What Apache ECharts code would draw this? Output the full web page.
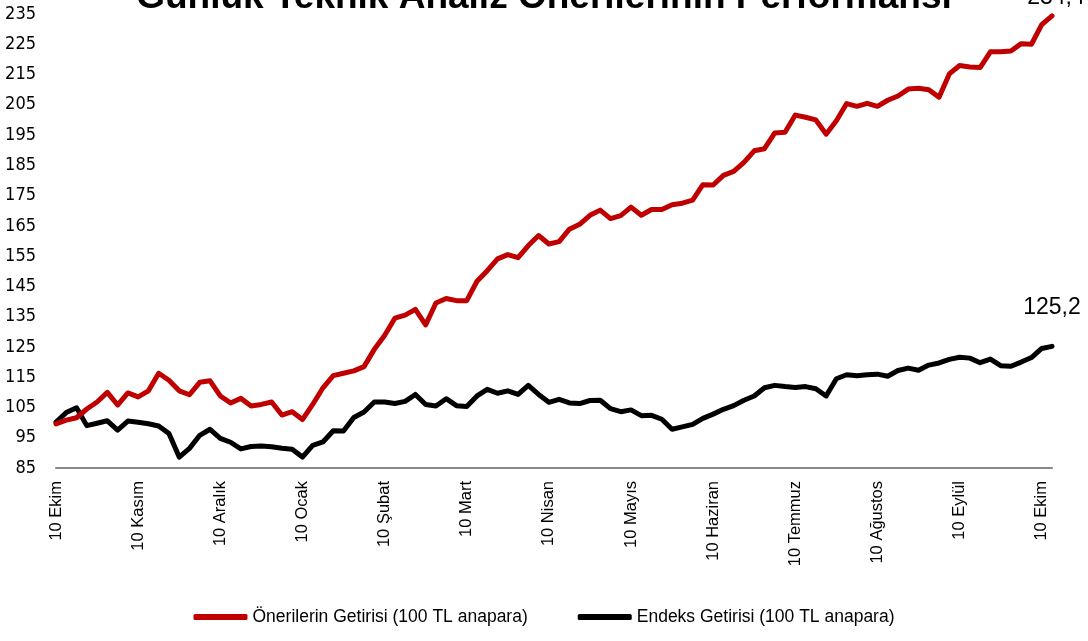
<!DOCTYPE html>
<html>
<head>
<meta charset="utf-8">
<script src="https://cdn.jsdelivr.net/npm/echarts@6/dist/echarts.min.js"></script>
<style>
  html, body { margin: 0; padding: 0; background: #fff; }
  #main { width: 1088px; height: 641px; }
</style>
</head>
<body>
<div id="main"></div>
<script>
// ay etiketleri (her 8 noktada bir)
const months = ['10 Ekim', '10 Kasım', '10 Aralık', '10 Ocak', '10 Şubat', '10 Mart', '10 Nisan',
	'10 Mayıs', '10 Haziran', '10 Temmuz', '10 Ağustos', '10 Eylül', '10 Ekim'];
const stepsPerMonth = 8;

// Önerilerin getirisi (100 TL anapara)
const oneriler = [
	99.6, 100.8, 101.6, 104.5, 106.8, 110.0, 105.8, 109.8,
	108.5, 110.5, 116.3, 114.0, 110.5, 109.2, 113.3, 113.8,
	108.8, 106.5, 108.0, 105.5, 106.0, 106.8, 102.5, 103.6,
	101.0, 106.0, 111.5, 115.5, 116.3, 117.1, 118.5, 124.2,
	128.8, 134.5, 135.5, 137.4, 132.3, 139.5, 141.0, 140.3,
	140.3, 146.7, 150.2, 154.1, 155.5, 154.5, 158.5, 161.8,
	159.0, 159.8, 163.9, 165.5, 168.5, 170.2, 167.4, 168.4,
	171.2, 168.5, 170.4, 170.4, 172.0, 172.5, 173.5, 178.6,
	178.5, 181.7, 183.0, 186.0, 189.8, 190.5, 195.7, 195.9,
	201.6, 200.9, 200.0, 195.3, 199.7, 205.4, 204.5, 205.5,
	204.5, 206.5, 207.9, 210.2, 210.5, 210.0, 207.5, 215.2,
	218.0, 217.5, 217.3, 222.5, 222.5, 222.8, 225.2, 225.0,
	231.5, 234.4
];

// Endeks getirisi (100 TL anapara)
const endeks = [
	100.2, 103.3, 104.9, 99.0, 99.8, 100.6, 97.5, 100.5,
	100.1, 99.6, 98.9, 96.4, 88.6, 91.5, 95.8, 97.8,
	94.8, 93.5, 91.3, 92.1, 92.3, 92.0, 91.5, 91.2,
	88.6, 92.5, 93.6, 97.3, 97.2, 101.7, 103.5, 106.8,
	106.8, 106.3, 107.0, 109.3, 106.0, 105.5, 107.9, 105.6,
	105.3, 108.8, 111.0, 109.7, 110.5, 109.3, 112.3, 109.3,
	106.7, 107.7, 106.5, 106.3, 107.3, 107.4, 104.6, 103.6,
	104.2, 102.3, 102.4, 101.1, 97.8, 98.6, 99.4, 101.4,
	102.8, 104.4, 105.6, 107.4, 108.8, 111.5, 112.3, 111.9,
	111.6, 111.9, 111.2, 108.8, 114.5, 115.8, 115.5, 115.8,
	116.0, 115.3, 117.2, 118.0, 117.3, 119.0, 119.7, 120.9,
	121.6, 121.3, 119.8, 121.0, 118.8, 118.6, 120.0, 121.5,
	124.5, 125.2
];

const yMin = 85, yMax = 235, yStep = 10;

const points = oneriler.map((v, i) => i);

const narrow = "'Liberation Sans Narrow', 'Arial Narrow', 'DejaVu Sans Condensed', sans-serif";
const arial = "'Liberation Sans', Arial, sans-serif";

function fmt(v) {
	return v.toFixed(1).replace('.', ',');
}

// son noktaya etiket koy (sadece son noktada sembol var)
function withEndLabel(arr, color, dist, dx) {
	return arr.map((v, i) => i === arr.length - 1 ? {
		value: v,
		symbol: 'circle',
		symbolSize: 1,
		itemStyle: {color: color},
		label: {
			show: true,
			position: 'top',
			distance: dist,
			offset: [dx, 0],
			formatter: p => fmt(p.value),
			fontFamily: arial,
			fontSize: 23,
			color: '#000'
		}
	} : v);
}

let myChart = echarts.init(document.getElementById('main'));
let option = {
	animation: false,
	backgroundColor: '#fff',
	title: {
		text: 'Günlük Teknik Analiz Önerilerinin Performansı',
		left: 'center',
		top: -26,
		textStyle: {
			fontFamily: arial,
			fontSize: 37,
			fontWeight: 'bold',
			color: '#000'
		}
	},
	grid: {
		left: 56,
		right: 36,
		top: 14,
		bottom: 173
	},
	legend: {
		bottom: 10,
		left: 'center',
		itemWidth: 54,
		itemHeight: 6,
		itemGap: 50,
		icon: 'roundRect',
		textStyle: {
			fontFamily: arial,
			fontSize: 17.5,
			color: '#000'
		}
	},
	xAxis: {
		type: 'category',
		data: points,
		boundaryGap: false,
		axisLine: {lineStyle: {color: '#898989', width: 2}},
		axisTick: {show: false},
		splitLine: {show: false},
		axisLabel: {
			rotate: 90,
			margin: 13,
			interval: i => i % stepsPerMonth === 0,
			formatter: (val, i) => months[i / stepsPerMonth],
			fontFamily: arial,
			fontSize: 16.5,
			color: '#000'
		}
	},
	yAxis: {
		type: 'value',
		min: yMin,
		max: yMax,
		interval: yStep,
		axisLine: {show: false},
		axisTick: {show: false},
		splitLine: {show: false},
		axisLabel: {
			margin: 20,
			fontFamily: narrow,
			fontSize: 18,
			color: '#000'
		}
	},
	series: [
		{
			name: 'Önerilerin Getirisi (100 TL anapara)',
			type: 'line',
			data: withEndLabel(oneriler, '#C00000', 6, 4),
			symbol: 'none',
			showSymbol: true,
			showAllSymbol: true,
			itemStyle: {color: '#C00000'},
			lineStyle: {color: '#C00000', width: 5, cap: 'round', join: 'round'},
			z: 3
		},
		{
			name: 'Endeks Getirisi (100 TL anapara)',
			type: 'line',
			data: withEndLabel(endeks, '#000', 27, 0),
			symbol: 'none',
			showSymbol: true,
			showAllSymbol: true,
			itemStyle: {color: '#000'},
			lineStyle: {color: '#000', width: 5, cap: 'round', join: 'round'},
			z: 2
		}
	]
};
myChart.setOption(option);
</script>
</body>
</html>
